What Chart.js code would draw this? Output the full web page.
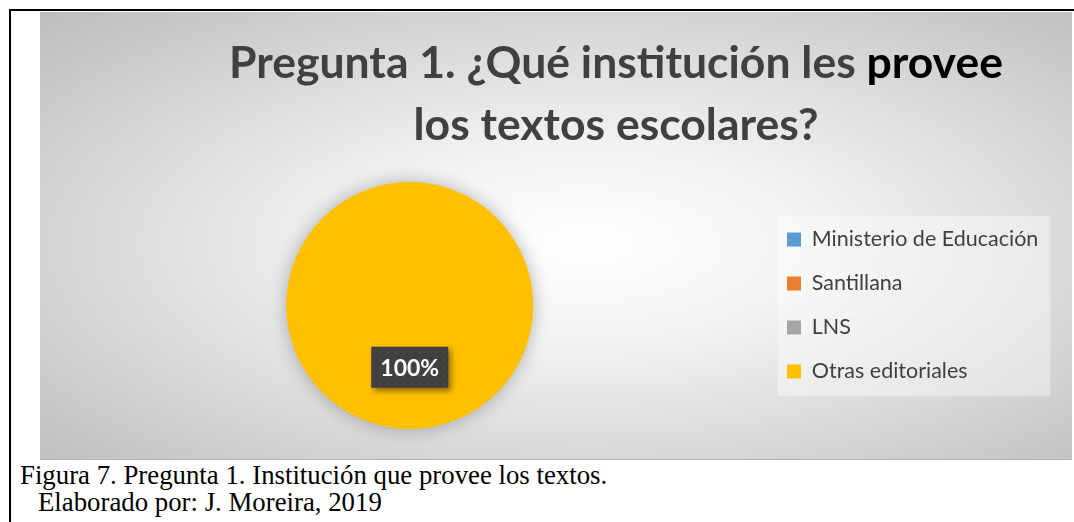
<!DOCTYPE html>
<html lang="es">
<head>
    <meta charset="UTF-8">
    <title>Pregunta 1</title>
    <script src="https://cdn.jsdelivr.net/npm/chart.js"></script>
    <style>
        body {
            margin: 0;
            width: 1074px;
            height: 522px;
            background: #ffffff;
            overflow: hidden;
            position: relative;
        }
        .frame {
            position: absolute;
            left: 9px;
            top: 9px;
            width: 1070px;
            height: 520px;
            border-left: 2px solid #000;
            border-top: 2px solid #000;
        }
        .chart-box {
            position: absolute;
            left: 40px;
            top: 12px;
            width: 1032px;
            height: 448px;
            background: radial-gradient(ellipse farthest-corner at 53% 52%, #ffffff 0%, #f4f4f4 28%, #bdbdbd 100%);
            border-bottom: 1px solid #b5b5b5;
            box-sizing: border-box;
        }
        .title {
            position: absolute;
            left: 176px;
            top: 18px;
            width: 800px;
            text-align: center;
            font-family: Lato, sans-serif;
            font-weight: bold;
            font-size: 44.5px;
            line-height: 62px;
            color: #404040;
            white-space: nowrap;
        }
        .title span {
            color: #000000;
        }
        .caption {
            position: absolute;
            font-family: "Liberation Serif", "Times New Roman", serif;
            font-size: 26.8px;
            line-height: 27px;
            color: #000;
            white-space: nowrap;
        }
    </style>
</head>
<body>
    <div class="frame"></div>
    <div class="chart-box">
        <canvas id="pieChart"></canvas>
        <div class="title">Pregunta 1. ¿Qué institución les <span>provee</span><br>los textos escolares?</div>
    </div>
    <div class="caption" style="left:20px; top:462px;">Figura 7. Pregunta 1. Institución que provee los textos.</div>
    <div class="caption" style="left:38px; top:489px;">Elaborado por: J. Moreira, 2019</div>

    <script>
        const categories = ['Ministerio de Educación', 'Santillana', 'LNS', 'Otras editoriales'];
        const values = [0, 0, 0, 100];
        const sliceColors = ['#5B9BD5', '#ED7D31', '#A5A5A5', '#FFC000'];

        const legendFont = { family: 'Lato', size: 21.5 };

        // ancho del texto más largo de la leyenda, para ubicarla como en el original
        const measureCtx = document.createElement('canvas').getContext('2d');
        measureCtx.font = legendFont.size + 'px Lato';
        const longest = Math.max(...categories.map(c => measureCtx.measureText(c).width));
        const legendLeft = 723;
        const rightPad = Math.max(0, 1032 - legendLeft - (24 + 14 + legendFont.size / 2 + longest + 10));

        // fondo claro detrás de la leyenda
        const legendBackground = {
            id: 'legendBackground',
            beforeDraw(chart) {
                const boxes = chart.legend.legendHitBoxes;
                if (!boxes || !boxes.length) return;
                const ctx = chart.ctx;
                const x0 = Math.min(...boxes.map(b => b.left)) - 9;
                const y0 = Math.min(...boxes.map(b => b.top)) - 13;
                const x1 = Math.max(...boxes.map(b => b.left + b.width)) + 12;
                const y1 = Math.max(...boxes.map(b => b.top + b.height)) + 14;
                ctx.save();
                ctx.fillStyle = 'rgba(255, 255, 255, 0.4)';
                ctx.fillRect(x0, y0, x1 - x0, y1 - y0);
                ctx.restore();
            }
        };

        // sombra suave del pastel
        const pieShadow = {
            id: 'pieShadow',
            beforeDatasetsDraw(chart) {
                const ctx = chart.ctx;
                ctx.save();
                ctx.shadowColor = 'rgba(0, 0, 0, 0.28)';
                ctx.shadowBlur = 18;
                ctx.shadowOffsetX = 0;
                ctx.shadowOffsetY = 0;
            },
            afterDatasetsDraw(chart) {
                chart.ctx.restore();
            }
        };

        // etiqueta de porcentaje con fondo oscuro punteado
        const percentLabels = {
            id: 'percentLabels',
            afterDraw(chart) {
                const ctx = chart.ctx;
                const meta = chart.getDatasetMeta(0);
                const total = values.reduce((a, b) => a + b, 0);
                const pattern = makeDots(ctx);
                meta.data.forEach((arc, i) => {
                    if (!values[i]) return;
                    const pct = Math.round(values[i] / total * 100) + '%';
                    const mid = (arc.startAngle + arc.endAngle) / 2;
                    let cx, cy;
                    if (values[i] === total) {
                        cx = arc.x;
                        cy = arc.y + arc.outerRadius * 0.5;
                    } else {
                        cx = arc.x + Math.cos(mid) * arc.outerRadius * 0.6;
                        cy = arc.y + Math.sin(mid) * arc.outerRadius * 0.6;
                    }
                    const w = 77, h = 41;
                    ctx.save();
                    ctx.shadowColor = 'rgba(0, 0, 0, 0.45)';
                    ctx.shadowBlur = 6;
                    ctx.shadowOffsetX = 3;
                    ctx.shadowOffsetY = 3;
                    ctx.fillStyle = '#404040';
                    ctx.fillRect(cx - w / 2, cy - h / 2, w, h);
                    ctx.restore();
                    ctx.save();
                    ctx.fillStyle = pattern;
                    ctx.fillRect(cx - w / 2, cy - h / 2, w, h);
                    ctx.fillStyle = '#ffffff';
                    ctx.font = 'bold 23px Lato';
                    ctx.textAlign = 'center';
                    ctx.textBaseline = 'middle';
                    ctx.fillText(pct, cx, cy + 1);
                    ctx.restore();
                });
            }
        };

        function makeDots(ctx) {
            const c = document.createElement('canvas');
            c.width = 8;
            c.height = 8;
            const p = c.getContext('2d');
            p.fillStyle = '#4c4c4c';
            p.fillRect(3, 3, 2, 2);
            return ctx.createPattern(c, 'repeat');
        }

        const ctx = document.getElementById('pieChart').getContext('2d');
        const pieChart = new Chart(ctx, {
            type: 'pie',
            data: {
                labels: categories,
                datasets: [{
                    data: values,
                    backgroundColor: sliceColors,
                    borderWidth: 0,
                    hoverOffset: 0
                }]
            },
            options: {
                responsive: true,
                maintainAspectRatio: false,
                animation: false,
                events: [],
                layout: {
                    padding: { top: 170, bottom: 30, left: 15, right: rightPad }
                },
                plugins: {
                    title: { display: false },
                    tooltip: { enabled: false },
                    legend: {
                        position: 'right',
                        labels: {
                            boxWidth: 14,
                            boxHeight: 14,
                            padding: 44 - legendFont.size,
                            color: '#404040',
                            font: legendFont
                        }
                    }
                }
            },
            plugins: [legendBackground, pieShadow, percentLabels]
        });
    </script>
</body>
</html>
